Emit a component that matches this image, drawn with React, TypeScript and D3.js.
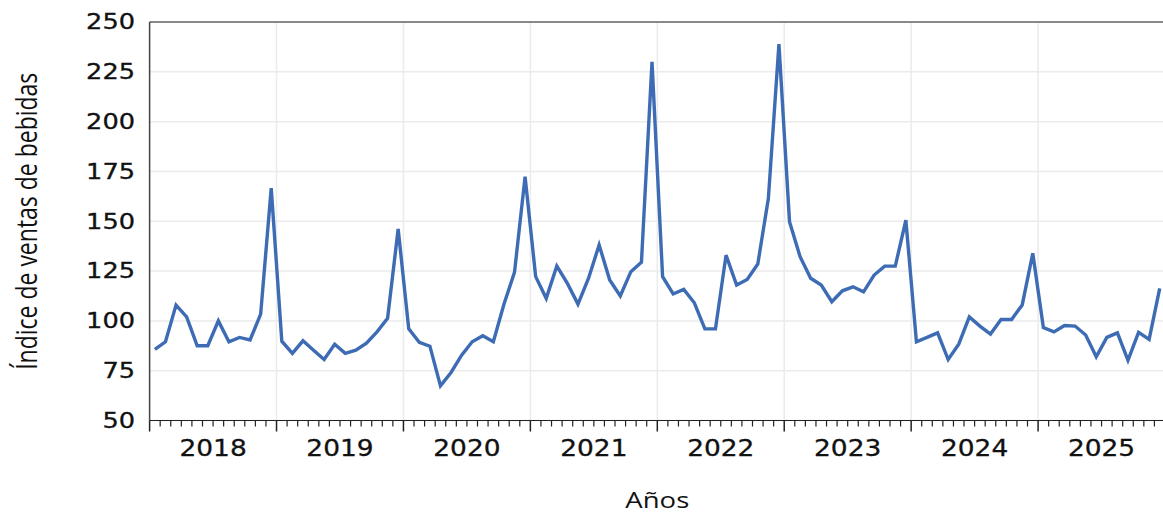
import React from "react";
import * as d3 from "d3";

const years = [2018, 2019, 2020, 2021, 2022, 2023, 2024, 2025];
const yTicks = [50, 75, 100, 125, 150, 175, 200, 225, 250];

const v2018 = [85.7, 89.5, 107.9, 102, 87.5, 87.5, 100, 89.5, 91.7, 90.4, 103.4, 166.6];
const v2019 = [89.8, 83.7, 90, 85.3, 80.6, 88.3, 83.7, 85.3, 88.8, 94.5, 101.3, 146.1];
const v2020 = [96, 89.2, 87.3, 67.4, 74.1, 82.8, 89.5, 92.5, 89.5, 108.3, 124.4, 172.4];
const v2021 = [122.2, 111.3, 127.5, 118.8, 108.4, 121.4, 138.1, 120.5, 112.5, 124.7, 129.4, 230];
const v2022 = [122.2, 113.5, 115.8, 109.1, 96, 96, 133, 118, 120.8, 128.5, 161.4, 238.9];
const v2023 = [149.8, 132.2, 121.4, 118, 109.6, 115.1, 117.1, 114.6, 123, 127.5, 127.5, 150.5];
const v2024 = [89.5, 91.7, 94, 80.6, 88.3, 102, 97.4, 93.4, 100.7, 100.7, 108, 133.9];
const v2025 = [96.7, 94.5, 97.7, 97.4, 92.9, 82, 91.7, 94, 80.2, 94.2, 90.7, 116.3];

const yTitle = "Índice de ventas de bebidas";
const xTitle = "Años";

const series = [v2018, v2019, v2020, v2021, v2022, v2023, v2024, v2025].flat();

const W = 1163;
const H = 514;
const left = 149.6;
const right = 1165;
const top = 22;
const bottom = 420.5;
const SX = 1.25;

export default function App() {
  const nMonths = years.length * 12;
  const x = d3.scaleLinear().domain([0, nMonths]).range([left, right]);
  const y = d3.scaleLinear().domain([50, 250]).range([bottom, top]);
  const line = d3
    .line<number>()
    .x((_, i) => x(i + 0.5))
    .y((d) => y(d));
  const monthTicks = d3.range(0, nMonths + 1);

  return (
    <svg
      width={W}
      height={H}
      style={{ position: "absolute", left: 0, top: 0, background: "#fff" }}
    >
      {yTicks.map((t) => (
        <line
          key={"hg" + t}
          x1={left}
          x2={W}
          y1={y(t)}
          y2={y(t)}
          stroke="#ebebeb"
          strokeWidth={1.5}
        />
      ))}
      {years.map((yr, i) =>
        i === 0 ? null : (
          <line
            key={"vg" + yr}
            x1={x(i * 12)}
            x2={x(i * 12)}
            y1={top}
            y2={bottom}
            stroke="#ebebeb"
            strokeWidth={1.5}
          />
        )
      )}
      <line x1={left} x2={W} y1={top} y2={top} stroke="#222" strokeWidth={1} />
      <line x1={left} x2={left} y1={top} y2={bottom} stroke="#444" strokeWidth={1.5} />
      <line x1={left} x2={W} y1={bottom} y2={bottom} stroke="#222" strokeWidth={1.2} />
      {monthTicks.map((m) => (
        <line
          key={"mt" + m}
          x1={x(m)}
          x2={x(m)}
          y1={bottom}
          y2={bottom + (m % 12 === 0 ? 11 : 6)}
          stroke="#222"
          strokeWidth={m % 12 === 0 ? 1.5 : 1.2}
        />
      ))}
      {years.map((yr, i) => {
        const cx = x(i * 12 + 6);
        return (
          <text
            key={"yl" + yr}
            transform={`translate(${cx},456) scale(1.15,1)`}
            textAnchor="middle"
            fontFamily="DejaVu Sans, Verdana, sans-serif"
            fontSize={23}
            fill="#111"
            stroke="#111"
            strokeWidth={0.3}
          >
            {yr}
          </text>
        );
      })}
      {yTicks.map((t) => (
        <text
          key={"yt" + t}
          transform={`translate(135,${y(t) + 7.3}) scale(${SX},1)`}
          textAnchor="end"
          fontFamily="DejaVu Sans, Verdana, sans-serif"
          fontSize={20.5}
          fill="#111"
          stroke="#111"
          strokeWidth={0.3}
        >
          {t}
        </text>
      ))}
      <text
        transform={`translate(37,${(top + bottom) / 2}) scale(${SX},1) rotate(-90)`}
        textAnchor="middle"
        fontFamily="Open Sans, sans-serif"
        fontSize={23}
        fill="#111"
      >
        {yTitle}
      </text>
      <text
        transform={`translate(${(left + right) / 2},508) scale(${SX},1)`}
        textAnchor="middle"
        fontFamily="Open Sans, sans-serif"
        fontSize={22}
        fill="#111"
      >
        {xTitle}
      </text>
      <path
        d={line(series) || ""}
        fill="none"
        stroke="#3d6cb4"
        strokeWidth={3.4}
        strokeLinejoin="miter"
      />
    </svg>
  );
}
